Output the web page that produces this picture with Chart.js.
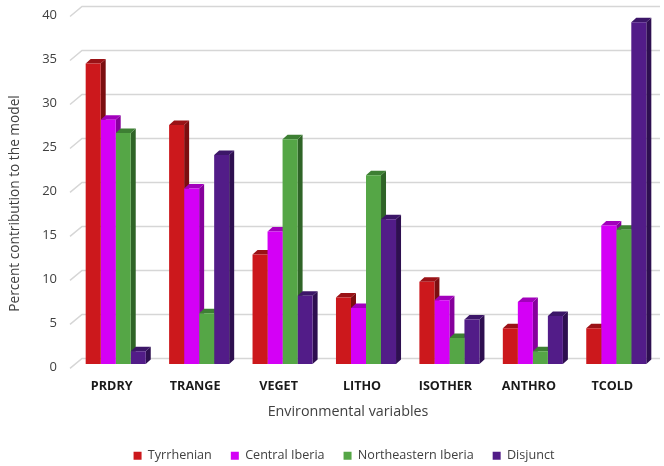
<!DOCTYPE html>
<html>
<head>
<meta charset="utf-8">
<script src="https://cdn.jsdelivr.net/npm/chart.js@4/dist/chart.umd.min.js"></script>
<style>
  html, body { margin: 0; padding: 0; background: #ffffff; }
  #wrap { width: 664px; height: 466px; position: relative; }
</style>
</head>
<body>
<div id="wrap"><canvas id="chart"></canvas></div>
<script>
// Environmental variables and their percent contribution per lineage
const categories = ['PRDRY', 'TRANGE', 'VEGET', 'LITHO', 'ISOTHER', 'ANTHRO', 'TCOLD'];
const seriesNames = ['Tyrrhenian', 'Central Iberia', 'Northeastern Iberia', 'Disjunct'];
const tyrrhenian = [34.2, 27.2, 12.5, 7.6, 9.4, 4.1, 4.1];
const centralIberia = [27.8, 20.0, 15.1, 6.4, 7.3, 7.1, 15.8];
const northeasternIberia = [26.3, 5.8, 25.6, 21.5, 3.0, 1.5, 15.3];
const disjunct = [1.5, 23.8, 7.8, 16.5, 5.1, 5.5, 38.9];
const yTicks = [0, 5, 10, 15, 20, 25, 30, 35, 40];
const xTitle = 'Environmental variables';
const yTitle = 'Percent contribution to the model';

// Front, side and top face colours of each series
const frontColors = ['#cc181c', '#d400f6', '#55a646', '#521c88'];
const sideColors  = ['#7c0e10', '#86009c', '#2f6427', '#2e0f50'];
const topColors   = ['#9a1216', '#a200bc', '#3d7f33', '#3c1668'];

const depth = { dx: 5, dy: -4.5 };

// Back wall grid + extruded bar faces, painted under the flat bar fronts
const extrude3d = {
  id: 'extrude3d',
  beforeDatasetsDraw(chart) {
    const { ctx, chartArea, scales: { y } } = chart;
    ctx.save();
    ctx.strokeStyle = '#d6d6d6';
    ctx.lineWidth = 1.5;
    yTicks.forEach(v => {
      const py = y.getPixelForValue(v);
      ctx.beginPath();
      ctx.moveTo(chartArea.left - 4, py + 4);
      ctx.lineTo(chartArea.left + 8, py - 6);
      ctx.lineTo(chartArea.right + 2, py - 6);
      ctx.stroke();
    });
    chart.data.datasets.forEach((ds, i) => {
      const meta = chart.getDatasetMeta(i);
      meta.data.forEach(bar => {
        const p = bar.getProps(['x', 'y', 'base', 'width'], true);
        const l = p.x - p.width / 2, r = p.x + p.width / 2;
        const top = p.y, base = p.base;
        ctx.fillStyle = sideColors[i];
        ctx.beginPath();
        ctx.moveTo(r, top);
        ctx.lineTo(r + depth.dx, top + depth.dy);
        ctx.lineTo(r + depth.dx, base + depth.dy);
        ctx.lineTo(r, base);
        ctx.closePath();
        ctx.fill();
        ctx.fillStyle = topColors[i];
        ctx.beginPath();
        ctx.moveTo(l, top);
        ctx.lineTo(l + depth.dx, top + depth.dy);
        ctx.lineTo(r + depth.dx, top + depth.dy);
        ctx.lineTo(r, top);
        ctx.closePath();
        ctx.fill();
      });
    });
    ctx.restore();
  }
};

// Axis titles, placed relative to the plot area
const axisTitles = {
  id: 'axisTitles',
  afterDraw(chart) {
    const { ctx, chartArea } = chart;
    ctx.save();
    ctx.fillStyle = '#404040';
    ctx.textAlign = 'center';
    ctx.textBaseline = 'middle';
    ctx.font = '14.3px "Open Sans"';
    ctx.fillText(xTitle, chartArea.left + 274, chartArea.bottom + 48);
    ctx.translate(15, chartArea.top + 191);
    ctx.rotate(-Math.PI / 2);
    ctx.font = '13.7px "Open Sans"';
    ctx.fillText(yTitle, 0, 0);
    ctx.restore();
  }
};

const seriesValues = [tyrrhenian, centralIberia, northeasternIberia, disjunct];

new Chart(document.getElementById('chart'), {
  type: 'bar',
  data: {
    labels: categories,
    datasets: seriesNames.map((name, i) => ({
      label: name,
      data: seriesValues[i],
      backgroundColor: frontColors[i],
      borderWidth: 0,
      categoryPercentage: 0.72,
      barPercentage: 1.0
    }))
  },
  options: {
    responsive: true,
    maintainAspectRatio: false,
    animation: false,
    devicePixelRatio: 1,
    layout: { padding: { top: 12.5, right: 6, left: 30, bottom: -6 } },
    plugins: {
      tooltip: { enabled: false },
      legend: {
        position: 'bottom',
        labels: {
          boxWidth: 8,
          boxHeight: 8,
          padding: 19,
          color: '#404040',
          font: { family: 'Open Sans', size: 12.6 }
        }
      }
    },
    scales: {
      x: {
        grid: { display: false, drawTicks: false },
        border: { display: false },
        afterFit(scale) { scale.height = 66; },
        ticks: {
          padding: 14,
          labelOffset: -4,
          color: '#1a1a1a',
          font: { family: 'Open Sans', size: 12.6, weight: 'bold' }
        }
      },
      y: {
        min: 0,
        max: 40,
        grid: {
          display: true,
          drawOnChartArea: false,
          drawTicks: true,
          tickLength: 14,
          tickColor: 'rgba(0,0,0,0)'
        },
        border: { display: false },
        afterBuildTicks(scale) { scale.ticks = yTicks.map(v => ({ value: v })); },
        afterFit(scale) { scale.width = 44; },
        ticks: {
          padding: 3,
          labelOffset: 3,
          color: '#404040',
          font: { family: 'Open Sans', size: 13 }
        }
      }
    }
  },
  plugins: [extrude3d, axisTitles]
});
</script>
</body>
</html>
